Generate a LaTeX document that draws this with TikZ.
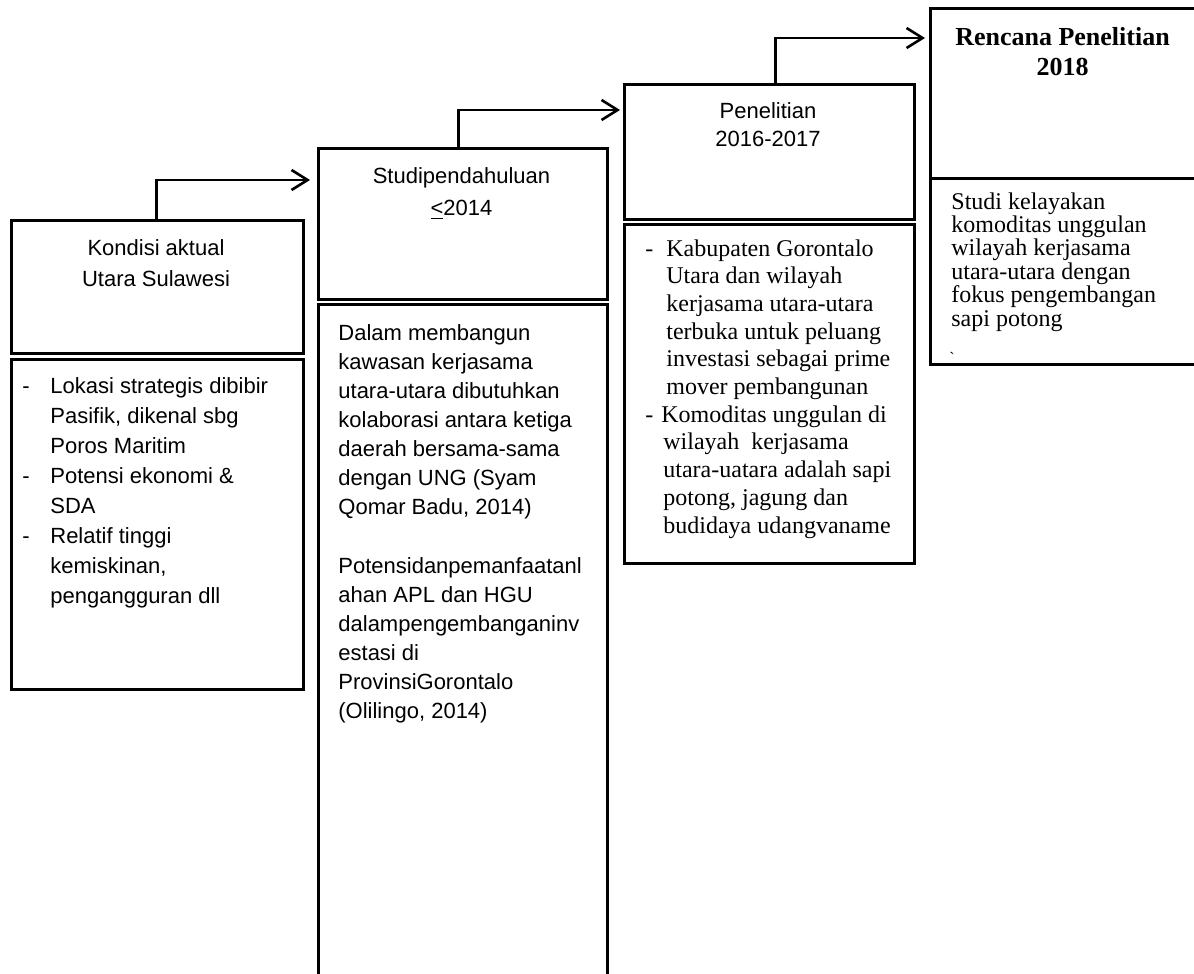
\documentclass[tikz,border=0pt]{standalone}
\usepackage{fontspec}
\setmainfont{Liberation Serif}
\newfontfamily\arialfont{Liberation Sans}
\usetikzlibrary{arrows.meta}
\newcommand{\butir}[1][14pt]{\makebox[#1][l]{-}}
\newcommand{\lanjut}[1][14pt]{\hspace*{#1}}

\begin{document}
\begin{tikzpicture}[x=0.5pt,y=-0.5pt,
    kotak/.style={draw,line width=1.5pt,inner sep=0pt,anchor=north west},
    judul/.style={inner sep=0pt,anchor=north,align=center},
    isi/.style={inner sep=0pt,anchor=north west,align=left},
    panah/.style={line width=1.3pt,-{Straight Barb[length=8pt,width=10pt]}}
]
\clip (0,0) rectangle (1194,974);

\node[kotak,minimum width=146pt,minimum height=66.5pt] (kondisi) at (10,219) {};
\node[kotak,minimum width=146pt,minimum height=165pt] (kondisiBawah) at (10,358) {};
\node[kotak,minimum width=144.5pt,minimum height=75.5pt] (studi) at (317,147) {};
\node[kotak,minimum width=144.5pt,minimum height=350pt] (studiBawah) at (317,303) {};
\node[kotak,minimum width=145pt,minimum height=67.5pt] (penelitian) at (623,83) {};
\node[kotak,minimum width=145pt,minimum height=169.5pt] (penelitianBawah) at (623,223) {};
\node[kotak,minimum width=135pt,minimum height=85pt] (rencana) at (929,7) {};
\node[kotak,minimum width=135pt,minimum height=93pt] (rencanaBawah) at (929,177) {};

\node[judul,font=\arialfont\fontsize{11}{15.5}\selectfont] (kondisiJudul) at (156,239)
    {Kondisi aktual\\Utara Sulawesi};
\node[isi,font=\arialfont\fontsize{11}{15}\selectfont] (kondisiIsi) at (22,377)
    {\butir Lokasi strategis dibibir\\\lanjut Pasifik, dikenal sbg\\\lanjut Poros Maritim\\
     \butir Potensi ekonomi \&\\\lanjut SDA\\
     \butir Relatif tinggi\\\lanjut kemiskinan,\\\lanjut pengangguran dll};

\node[judul,font=\arialfont\fontsize{11}{16}\selectfont] (studiJudul) at (461.5,167)
    {Studipendahuluan\\\underline{<}2014};
\node[isi,font=\arialfont\fontsize{11}{14.55}\selectfont] (studiIsi) at (338,324)
    {Dalam membangun\\kawasan kerjasama\\utara-utara dibutuhkan\\kolaborasi antara ketiga\\
     daerah bersama-sama\\dengan UNG (Syam\\Qomar Badu, 2014)\\[14.55pt]
     Potensidanpemanfaatanl\\ahan APL dan HGU\\dalampengembanganinv\\estasi di\\
     ProvinsiGorontalo\\(Olilingo, 2014)};

\node[judul,font=\arialfont\fontsize{11}{14}\selectfont] (penelitianJudul) at (768,102)
    {Penelitian\\2016-2017};
\node[isi,font=\fontsize{12}{13.85}\selectfont] (penelitianIsi) at (645,239)
    {\butir[10.5pt]Kabupaten Gorontalo\\\lanjut[10.5pt]Utara dan wilayah\\
     \lanjut[10.5pt]kerjasama utara-utara\\\lanjut[10.5pt]terbuka untuk peluang\\
     \lanjut[10.5pt]investasi sebagai prime\\\lanjut[10.5pt]mover pembangunan\\
     \butir[8pt]Komoditas unggulan di\\\lanjut[9pt]wilayah\ \ kerjasama\\
     \lanjut[9pt]utara-uatara adalah sapi\\\lanjut[9pt]potong, jagung dan\\
     \lanjut[9pt]budidaya udangvaname};

\node[judul,font=\bfseries\fontsize{13}{15}\selectfont] (rencanaJudul) at (1062.5,27)
    {Rencana Penelitian\\2018};
\node[isi,font=\fontsize{12}{11.7}\selectfont] (rencanaIsi) at (951,192)
    {Studi kelayakan\\komoditas unggulan\\wilayah kerjasama\\utara-utara dengan\\
     fokus pengembangan\\sapi potong};
\node[inner sep=0pt,font=\fontsize{8}{8}\selectfont] (tanda) at (952,358) {\textasciigrave};

\draw[panah,shorten >=3.5pt] ([xshift=-0.5pt]kondisi.north) |- ([yshift=-16.5pt]studi.north west);
\draw[panah,shorten >=1.5pt] ([xshift=-2.25pt]studi.north) |- ([yshift=-13.5pt]penelitian.north west);
\draw[panah,shorten >=2pt] ([xshift=3pt]penelitian.north) |- ([yshift=-15.5pt]rencana.north west);
\end{tikzpicture}
\end{document}
